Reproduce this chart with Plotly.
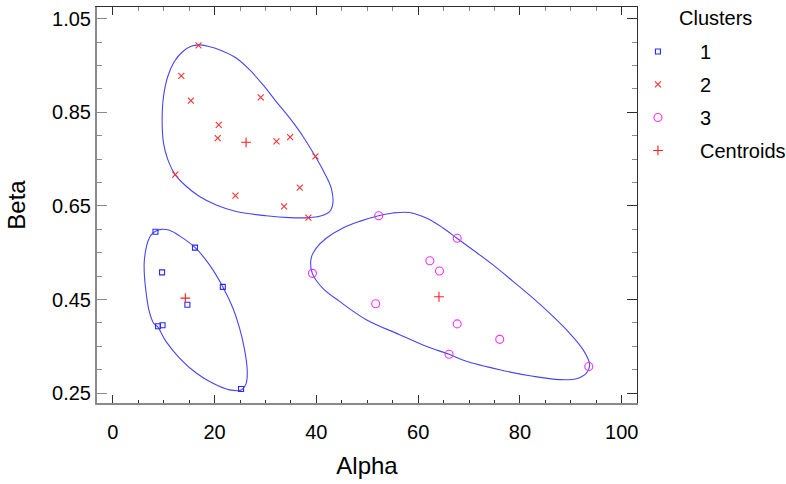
import plotly.graph_objects as go

FONT = "Liberation Sans, Arial, sans-serif"

# ---- cluster members ----
c1_alpha = [8.39, 16.15, 9.68, 21.62, 14.66, 8.89, 9.78, 25.20]
c1_beta = [0.595, 0.561, 0.508, 0.477, 0.439, 0.393, 0.395, 0.259]

c2_alpha = [16.84, 13.46, 15.35, 29.08, 20.82, 20.62, 32.16, 34.85, 39.82, 12.27, 36.74, 24.10, 33.66, 38.43]
c2_beta = [0.993, 0.928, 0.875, 0.882, 0.823, 0.795, 0.788, 0.797, 0.756, 0.717, 0.689, 0.672, 0.649, 0.625]

c3_alpha = [52.25, 67.67, 62.30, 64.19, 39.23, 51.66, 67.67, 76.03, 66.08, 93.53]
c3_beta = [0.629, 0.581, 0.533, 0.511, 0.506, 0.441, 0.398, 0.365, 0.333, 0.307]

cent_alpha = [14.26, 26.19, 64.09]
cent_beta = [0.453, 0.786, 0.456]

# ---- cluster boundary contours ----
b1_alpha = [9.51, 8.40, 7.54, 6.89, 6.43, 6.17, 6.23, 6.56, 7.09, 8.00, 8.86, 10.49, 13.11, 16.39,
            19.67, 22.94, 25.24, 26.21, 26.41, 25.89, 24.91, 23.60, 21.63, 19.01, 16.19, 13.11, 11.14]
b1_beta = [0.600, 0.596, 0.588, 0.574, 0.553, 0.528, 0.499, 0.464, 0.428, 0.400, 0.391, 0.360, 0.325, 0.293,
           0.271, 0.257, 0.257, 0.271, 0.300, 0.343, 0.389, 0.432, 0.477, 0.524, 0.561, 0.586, 0.598]

b2_alpha = [16.84, 18.68, 21.30, 24.25, 26.87, 29.49, 32.11, 34.74, 37.35, 39.78, 41.61, 42.92, 43.25, 42.60,
            40.64, 38.47, 34.74, 30.15, 24.25, 20.33, 17.04, 14.43, 12.26, 10.82, 9.97, 9.70, 9.97, 10.82,
            12.13, 13.77, 15.40]
b2_beta = [0.994, 0.991, 0.982, 0.966, 0.941, 0.909, 0.873, 0.838, 0.799, 0.756, 0.720, 0.688, 0.656, 0.638,
           0.628, 0.625, 0.625, 0.629, 0.638, 0.652, 0.670, 0.692, 0.717, 0.749, 0.784, 0.834, 0.884, 0.927,
           0.959, 0.980, 0.991]

b3_alpha = [58.32, 61.61, 64.88, 67.63, 70.78, 74.71, 78.63, 82.57, 86.50, 89.78, 92.40, 93.71, 93.06, 91.09,
            87.82, 82.57, 76.02, 69.46, 66.06, 61.61, 56.36, 49.81, 44.57, 41.28, 39.20, 38.99, 39.98, 41.94,
            45.22, 48.50, 52.23, 55.05]
b3_beta = [0.636, 0.624, 0.603, 0.581, 0.556, 0.524, 0.489, 0.453, 0.414, 0.378, 0.343, 0.311, 0.293, 0.281,
           0.279, 0.286, 0.300, 0.318, 0.333, 0.350, 0.375, 0.407, 0.446, 0.474, 0.506, 0.539, 0.560, 0.581,
           0.603, 0.617, 0.629, 0.635]

x_ticks = [0, 20, 40, 60, 80, 100]
y_ticks = [0.25, 0.45, 0.65, 0.85, 1.05]

fig = go.Figure()

for bx, by in [(b1_alpha, b1_beta), (b2_alpha, b2_beta), (b3_alpha, b3_beta)]:
    fig.add_trace(go.Scatter(
        x=bx + bx[:1], y=by + by[:1], mode="lines",
        line=dict(color="#4646f0", width=1.1, shape="spline", smoothing=1.0),
        showlegend=False, hoverinfo="skip"))

fig.add_trace(go.Scatter(x=c1_alpha, y=c1_beta, mode="markers", name="1", legendgroup="g1",
                         marker=dict(symbol="square-open", size=5, color="#2a2aff",
                                     line=dict(width=1.1, color="#2a2aff"))))
fig.add_trace(go.Scatter(x=c2_alpha, y=c2_beta, mode="markers", name="2", legendgroup="g2",
                         marker=dict(symbol="x-thin-open", size=6, color="#ff3030",
                                     line=dict(width=1.1, color="#ff3030"))))
fig.add_trace(go.Scatter(x=c3_alpha, y=c3_beta, mode="markers", name="3", legendgroup="g3",
                         marker=dict(symbol="circle-open", size=8, color="#ff30ff",
                                     line=dict(width=1.1, color="#ff30ff"))))
fig.add_trace(go.Scatter(x=cent_alpha, y=cent_beta, mode="markers", name="Centroids", legendgroup="g4",
                         marker=dict(symbol="cross-thin-open", size=7, color="#ff2020",
                                     line=dict(width=1.1, color="#ff2020"))))
# empty trace so the top/right frame axes exist
fig.add_trace(go.Scatter(x=[], y=[], xaxis="x2", yaxis="y2", showlegend=False, hoverinfo="skip"))

XR = [-3.1, 103.0]
YR = [0.229, 1.075]

fig.update_layout(
    width=786, height=484,
    margin=dict(l=97, r=149, t=7, b=81, autoexpand=False),
    paper_bgcolor="white", plot_bgcolor="white",
    font=dict(family=FONT, size=20, color="black"),
    xaxis=dict(range=XR, tickvals=x_ticks, showgrid=False, zeroline=False, automargin=False,
               showline=True, linecolor="#8a8a8a", linewidth=2,
               ticks="inside", ticklen=8, tickcolor="#303030", tickwidth=1,
               ticklabelstandoff=10,
               minor=dict(dtick=5, ticks="inside", ticklen=3, tickcolor="#303030", showgrid=False),
               title=dict(text="Alpha", standoff=15), tickfont=dict(size=20)),
    yaxis=dict(range=YR, tickvals=y_ticks, tickformat=".2f", showgrid=False, zeroline=False, automargin=False,
               showline=True, linecolor="#8a8a8a", linewidth=2,
               ticks="inside", ticklen=10, tickcolor="#8a8a8a", tickwidth=1,
               ticklabelstandoff=0,
               minor=dict(dtick=0.05, tick0=0.25, ticks="inside", ticklen=5, tickcolor="#8a8a8a", showgrid=False),
               title=dict(text="Beta", standoff=20), tickfont=dict(size=20)),
    xaxis2=dict(range=XR, overlaying="x", side="top", anchor="y2", showticklabels=False, automargin=False,
                tickvals=x_ticks, showgrid=False, zeroline=False,
                showline=True, linecolor="#303030", linewidth=1.3,
                ticks="inside", ticklen=8, tickcolor="#303030",
                minor=dict(dtick=5, ticks="inside", ticklen=4, tickcolor="#8a8a8a", showgrid=False)),
    yaxis2=dict(range=YR, overlaying="y", side="right", anchor="x2", showticklabels=False, automargin=False,
                tickvals=y_ticks, showgrid=False, zeroline=False,
                showline=True, linecolor="#303030", linewidth=1.3,
                ticks="inside", ticklen=10, tickcolor="#303030",
                minor=dict(dtick=0.05, tick0=0.25, ticks="inside", ticklen=5, tickcolor="#8a8a8a", showgrid=False)),
    legend=dict(x=0.961, xanchor="left", y=0.937, yanchor="top",
                font=dict(size=20), bgcolor="rgba(0,0,0,0)", tracegroupgap=4,
                itemwidth=74),
    annotations=[dict(text="Clusters", xref="paper", yref="paper", x=1.146, y=0.972,
                      xanchor="center", yanchor="middle", showarrow=False, font=dict(size=20))],
    showlegend=True,
)

fig.write_html("out.html", config={"displayModeBar": False},
               post_script="document.body.style.margin='0px';")
